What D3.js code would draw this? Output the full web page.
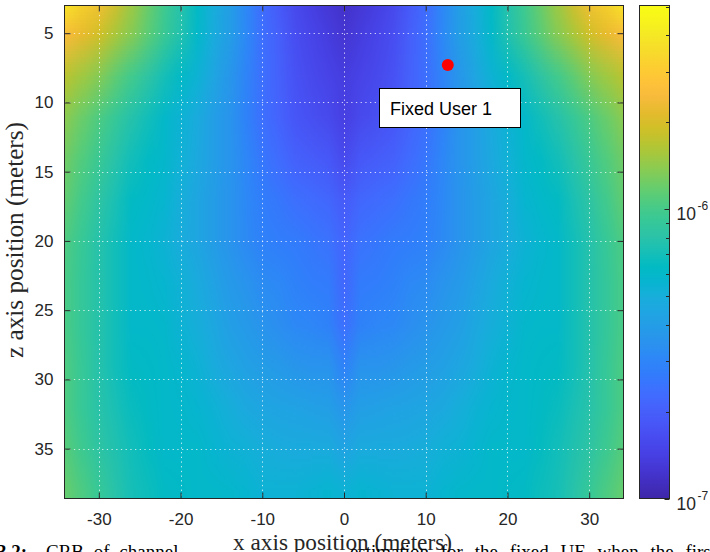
<!DOCTYPE html>
<html>
<head>
<meta charset="utf-8">
<script src="https://cdn.jsdelivr.net/npm/d3@7"></script>
<style>
  html, body { margin: 0; padding: 0; background: #ffffff; }
  svg { display: block; }
</style>
</head>
<body>
<svg id="chart" width="710" height="552"></svg>
<script>
// ---- data ---------------------------------------------------------------
// sample positions of the CRB map (meters)
const xGrid = [-34,-32,-30,-28,-26,-24,-22,-20,-18,-16,-14,-12,-10,-8,-6,-4,-2,0,
               2,4,6,8,10,12,14,16,18,20,22,24,26,28,30,32,34];
const zGrid = [2,5,8,11,14,17,20,23,26,29,32,35,38];

// log10 of the CRB at each (z row, x column)
const log10Crb = [
  [-5.35,-5.47,-5.57,-5.69,-5.81,-5.91,-6.01,-6.10,-6.20,-6.30,-6.40,-6.52,-6.64,-6.73,-6.81,-6.86,-6.90,-6.93,
   -6.90,-6.86,-6.81,-6.73,-6.64,-6.52,-6.40,-6.30,-6.20,-6.10,-6.01,-5.91,-5.81,-5.69,-5.57,-5.47,-5.35],
  [-5.60,-5.66,-5.72,-5.80,-5.87,-5.95,-6.03,-6.12,-6.22,-6.31,-6.40,-6.51,-6.62,-6.70,-6.78,-6.82,-6.86,-6.90,
   -6.86,-6.82,-6.78,-6.70,-6.62,-6.51,-6.40,-6.31,-6.22,-6.12,-6.03,-5.95,-5.87,-5.80,-5.72,-5.66,-5.60],
  [-5.77,-5.82,-5.87,-5.94,-6.01,-6.08,-6.15,-6.21,-6.27,-6.35,-6.44,-6.53,-6.62,-6.69,-6.76,-6.80,-6.83,-6.86,
   -6.83,-6.80,-6.76,-6.69,-6.62,-6.53,-6.44,-6.35,-6.27,-6.21,-6.15,-6.08,-6.01,-5.94,-5.87,-5.82,-5.77],
  [-5.86,-5.92,-5.98,-6.04,-6.11,-6.16,-6.22,-6.27,-6.32,-6.39,-6.45,-6.54,-6.62,-6.68,-6.74,-6.77,-6.80,-6.85,
   -6.80,-6.77,-6.74,-6.68,-6.62,-6.54,-6.45,-6.39,-6.32,-6.27,-6.22,-6.16,-6.11,-6.04,-5.98,-5.92,-5.86],
  [-5.91,-5.97,-6.03,-6.10,-6.16,-6.20,-6.23,-6.28,-6.33,-6.39,-6.45,-6.52,-6.59,-6.64,-6.69,-6.71,-6.73,-6.80,
   -6.73,-6.71,-6.69,-6.64,-6.59,-6.52,-6.45,-6.39,-6.33,-6.28,-6.23,-6.20,-6.16,-6.10,-6.03,-5.97,-5.91],
  [-5.94,-6.01,-6.08,-6.14,-6.20,-6.22,-6.25,-6.30,-6.35,-6.40,-6.45,-6.51,-6.56,-6.59,-6.62,-6.64,-6.66,-6.72,
   -6.66,-6.64,-6.62,-6.59,-6.56,-6.51,-6.45,-6.40,-6.35,-6.30,-6.25,-6.22,-6.20,-6.14,-6.08,-6.01,-5.94],
  [-5.98,-6.04,-6.11,-6.16,-6.22,-6.24,-6.27,-6.31,-6.35,-6.40,-6.45,-6.50,-6.54,-6.56,-6.57,-6.59,-6.61,-6.67,
   -6.61,-6.59,-6.57,-6.56,-6.54,-6.50,-6.45,-6.40,-6.35,-6.31,-6.27,-6.24,-6.22,-6.16,-6.11,-6.04,-5.98],
  [-5.99,-6.05,-6.11,-6.16,-6.22,-6.23,-6.25,-6.28,-6.32,-6.37,-6.42,-6.45,-6.49,-6.51,-6.54,-6.56,-6.57,-6.66,
   -6.57,-6.56,-6.54,-6.51,-6.49,-6.45,-6.42,-6.37,-6.32,-6.28,-6.25,-6.23,-6.22,-6.16,-6.11,-6.05,-5.99],
  [-5.99,-6.05,-6.11,-6.16,-6.22,-6.22,-6.23,-6.27,-6.30,-6.34,-6.39,-6.42,-6.45,-6.48,-6.51,-6.52,-6.54,-6.62,
   -6.54,-6.52,-6.51,-6.48,-6.45,-6.42,-6.39,-6.34,-6.30,-6.27,-6.23,-6.22,-6.22,-6.16,-6.11,-6.05,-5.99],
  [-5.98,-6.04,-6.11,-6.16,-6.20,-6.21,-6.22,-6.24,-6.27,-6.31,-6.35,-6.38,-6.40,-6.42,-6.44,-6.45,-6.45,-6.54,
   -6.45,-6.45,-6.44,-6.42,-6.40,-6.38,-6.35,-6.31,-6.27,-6.24,-6.22,-6.21,-6.20,-6.16,-6.11,-6.04,-5.98],
  [-5.98,-6.04,-6.10,-6.14,-6.18,-6.20,-6.22,-6.23,-6.25,-6.27,-6.30,-6.33,-6.35,-6.36,-6.37,-6.38,-6.39,-6.44,
   -6.39,-6.38,-6.37,-6.36,-6.35,-6.33,-6.30,-6.27,-6.25,-6.23,-6.22,-6.20,-6.18,-6.14,-6.10,-6.04,-5.98],
  [-5.96,-6.02,-6.08,-6.12,-6.16,-6.19,-6.22,-6.22,-6.22,-6.25,-6.27,-6.28,-6.30,-6.31,-6.32,-6.32,-6.32,-6.36,
   -6.32,-6.32,-6.32,-6.31,-6.30,-6.28,-6.27,-6.25,-6.22,-6.22,-6.22,-6.19,-6.16,-6.12,-6.08,-6.02,-5.96],
  [-5.93,-5.98,-6.04,-6.10,-6.15,-6.17,-6.20,-6.21,-6.22,-6.22,-6.23,-6.25,-6.27,-6.27,-6.27,-6.26,-6.25,-6.27,
   -6.25,-6.26,-6.27,-6.27,-6.27,-6.25,-6.23,-6.22,-6.22,-6.21,-6.20,-6.17,-6.15,-6.10,-6.04,-5.98,-5.93]
];

// axis extents and ticks
const xExtent = [-34.2, 34.2];
const zExtent = [3, 38.6];
const xTicks = [-30, -20, -10, 0, 10, 20, 30];
const zTicks = [5, 10, 15, 20, 25, 30, 35];
const crbRange = [1e-7, 5.08e-6];
const colorbarMajor = [1e-7, 1e-6];

// fixed user marker
const userNames = ["Fixed User 1"];
const userX = [12.7];
const userZ = [7.3];

// caption fragments
const captionNumber = "Figure 3.2:";
const captionStart = "CRB of channel";
const captionEnd = "estimation for the fixed UE when the first";

// ---- layout -------------------------------------------------------------
const plot = { left: 64.5, right: 623.5, top: 5.5, bottom: 498.5 };
const bar  = { left: 639.5, right: 669.5, top: 5.5, bottom: 498.5 };
const ink = "#262626";
const tickFont = "'Liberation Sans', Arial, Helvetica, sans-serif";
const serifFont = "'Liberation Serif', 'Times New Roman', serif";

// parula colormap anchors (index out of 255, r, g, b)
const parulaStops = [
  [0,0.2422,0.1504,0.6603],[8,0.2578,0.1818,0.7511],[16,0.2706,0.2147,0.8364],
  [24,0.2783,0.2559,0.8991],[32,0.2813,0.3006,0.9414],[40,0.2795,0.3447,0.9717],
  [48,0.2699,0.3892,0.9906],[56,0.2440,0.4358,0.9988],[64,0.1963,0.4847,0.9892],
  [72,0.1786,0.5289,0.9682],[80,0.1687,0.5703,0.9359],[88,0.1460,0.6091,0.9079],
  [96,0.1248,0.6459,0.8883],[104,0.0952,0.6798,0.8598],[112,0.0297,0.7082,0.8163],
  [120,0.0067,0.7312,0.7660],[128,0.0964,0.7500,0.7120],[136,0.1717,0.7670,0.6554],
  [144,0.2161,0.7843,0.5923],[152,0.2906,0.7973,0.5188],[160,0.3909,0.8029,0.4354],
  [168,0.5044,0.7993,0.3480],[176,0.6174,0.7876,0.2612],[184,0.7242,0.7698,0.1910],
  [192,0.8203,0.7498,0.1535],[200,0.9035,0.7330,0.1774],[208,0.9728,0.7298,0.2394],
  [216,0.9970,0.7659,0.2199],[224,0.9892,0.8136,0.1885],[232,0.9676,0.8639,0.1643],
  [240,0.9597,0.9135,0.1423],[248,0.9691,0.9606,0.1060],[255,0.9769,0.9839,0.0805]
];
const parula = d3.scaleLinear()
  .domain(parulaStops.map(s => s[0] / 255))
  .range(parulaStops.map(s => d3.rgb(s[1] * 255, s[2] * 255, s[3] * 255)))
  .interpolate(d3.interpolateRgb)
  .clamp(true);

// ---- scales -------------------------------------------------------------
const x = d3.scaleLinear().domain(xExtent).range([plot.left, plot.right]);
const y = d3.scaleLinear().domain(zExtent).range([plot.top, plot.bottom]);
const color = d3.scaleSequential(parula).domain(crbRange.map(Math.log10));
const cbar = d3.scaleLog().domain(crbRange).range([bar.bottom, bar.top]);

const svg = d3.select("#chart");
const defs = svg.append("defs");
defs.append("clipPath").attr("id", "plotClip")
  .append("rect")
  .attr("x", plot.left).attr("y", plot.top)
  .attr("width", plot.right - plot.left).attr("height", plot.bottom - plot.top);

// ---- heat map: one pixel per sample, smoothly scaled onto the axes ------
const cols = xGrid.length, rows = zGrid.length;
const canvas = document.createElement("canvas");
canvas.width = cols; canvas.height = rows;
const ctx = canvas.getContext("2d");
const pix = ctx.createImageData(cols, rows);
log10Crb.forEach((row, j) => row.forEach((v, i) => {
  const c = d3.rgb(color(v));
  const k = 4 * (j * cols + i);
  pix.data[k] = c.r; pix.data[k + 1] = c.g; pix.data[k + 2] = c.b; pix.data[k + 3] = 255;
}));
ctx.putImageData(pix, 0, 0);
const dx = xGrid[1] - xGrid[0], dz = zGrid[1] - zGrid[0];
const x0 = x(xGrid[0] - dx / 2), x1 = x(xGrid[cols - 1] + dx / 2);
const y0 = y(zGrid[0] - dz / 2), y1 = y(zGrid[rows - 1] + dz / 2);
svg.append("g").attr("clip-path", "url(#plotClip)")
  .append("image")
  .attr("href", canvas.toDataURL())
  .attr("x", x0).attr("y", y0)
  .attr("width", x1 - x0).attr("height", y1 - y0)
  .attr("preserveAspectRatio", "none")
  .style("image-rendering", "auto");

// ---- dotted grid --------------------------------------------------------
const grid = svg.append("g")
  .attr("stroke", "#ffffff").attr("stroke-opacity", 0.75)
  .attr("stroke-width", 1).attr("stroke-dasharray", "1.3,3.4");
grid.selectAll("line.v").data(xTicks).join("line").attr("class", "v")
  .attr("x1", d => Math.round(x(d)) + 0.5).attr("x2", d => Math.round(x(d)) + 0.5)
  .attr("y1", plot.top).attr("y2", plot.bottom);
grid.selectAll("line.h").data(zTicks).join("line").attr("class", "h")
  .attr("y1", d => Math.round(y(d)) + 0.5).attr("y2", d => Math.round(y(d)) + 0.5)
  .attr("x1", plot.left).attr("x2", plot.right);

// ---- axes ---------------------------------------------------------------
function styleAxis(g) {
  g.select(".domain").remove();
  g.attr("font-family", tickFont).attr("font-size", 17);
  g.selectAll(".tick line").attr("stroke", ink).attr("stroke-width", 1);
  g.selectAll(".tick text").attr("fill", ink);
}
svg.append("g").attr("transform", `translate(0,${plot.bottom})`)
  .call(d3.axisBottom(x).tickValues(xTicks).tickSizeInner(-6).tickSizeOuter(0)
    .tickPadding(14).tickFormat(d => String(d)))
  .call(styleAxis);
svg.append("g").attr("transform", `translate(0,${plot.top})`)
  .call(d3.axisTop(x).tickValues(xTicks).tickSizeInner(-6).tickSizeOuter(0).tickFormat(""))
  .call(styleAxis);
svg.append("g").attr("transform", `translate(${plot.left},0)`)
  .call(d3.axisLeft(y).tickValues(zTicks).tickSizeInner(-6).tickSizeOuter(0)
    .tickPadding(11).tickFormat(d => String(d)))
  .call(styleAxis);
svg.append("g").attr("transform", `translate(${plot.right},0)`)
  .call(d3.axisRight(y).tickValues(zTicks).tickSizeInner(-6).tickSizeOuter(0).tickFormat(""))
  .call(styleAxis);

svg.append("rect")
  .attr("x", plot.left).attr("y", plot.top)
  .attr("width", plot.right - plot.left).attr("height", plot.bottom - plot.top)
  .attr("fill", "none").attr("stroke", ink).attr("stroke-width", 1);

// ---- axis labels --------------------------------------------------------
function fitWidth(sel, target) {
  const w = sel.node().getComputedTextLength();
  const fs = parseFloat(sel.attr("font-size"));
  if (w > 0) sel.attr("font-size", fs * target / w);
}
const xLabel = svg.append("text")
  .attr("x", 342.5).attr("y", 550)
  .attr("text-anchor", "middle").attr("font-family", serifFont).attr("font-size", 22)
  .attr("fill", ink).text("x axis position (meters)");
fitWidth(xLabel, 219);
const yLabel = svg.append("text")
  .attr("transform", "translate(23.3,240) rotate(-90)")
  .attr("text-anchor", "middle").attr("font-family", serifFont).attr("font-size", 22)
  .attr("fill", ink).text("z axis position (meters)");
fitWidth(yLabel, 236);

// ---- fixed user marker and its label box ---------------------------------
const users = userNames.map((name, i) => ({ name, x: userX[i], z: userZ[i] }));
svg.append("g").selectAll("circle").data(users).join("circle")
  .attr("cx", d => x(d.x)).attr("cy", d => y(d.z)).attr("r", 6)
  .attr("fill", "#ff0000");
const boxOffset = { dx: -68.5, dy: 23, w: 141, h: 39, padX: 10.5, base: 26 };
const tag = svg.append("g").selectAll("g").data(users).join("g")
  .attr("transform", d => `translate(${Math.round(x(d.x) + boxOffset.dx) + 0.5},${Math.round(y(d.z) + boxOffset.dy) + 0.5})`);
tag.append("rect").attr("width", boxOffset.w).attr("height", boxOffset.h)
  .attr("fill", "#ffffff").attr("stroke", "#000").attr("stroke-width", 1);
tag.append("text").attr("x", boxOffset.padX).attr("y", boxOffset.base)
  .attr("font-family", tickFont).attr("font-size", 18).attr("fill", "#000")
  .text(d => d.name);

// ---- colorbar -----------------------------------------------------------
const grad = defs.append("linearGradient").attr("id", "parulaGrad")
  .attr("x1", 0).attr("y1", 1).attr("x2", 0).attr("y2", 0);
d3.range(0, 1.0001, 1 / 64).forEach(t => {
  grad.append("stop").attr("offset", t).attr("stop-color", parula(t));
});
svg.append("rect")
  .attr("x", bar.left).attr("y", bar.top)
  .attr("width", bar.right - bar.left).attr("height", bar.bottom - bar.top)
  .attr("fill", "url(#parulaGrad)");
const minorTicks = cbar.ticks().filter(v => !colorbarMajor.some(m => Math.abs(m - v) / m < 1e-6));
svg.append("g").selectAll("line").data(minorTicks).join("line")
  .attr("x1", bar.right - 3.5).attr("x2", bar.right)
  .attr("y1", d => Math.round(cbar(d)) + 0.5).attr("y2", d => Math.round(cbar(d)) + 0.5)
  .attr("stroke", ink).attr("stroke-width", 1);
svg.append("g").selectAll("line").data(colorbarMajor).join("line")
  .attr("x1", bar.right - 5).attr("x2", bar.right)
  .attr("y1", d => Math.round(cbar(d)) + 0.5).attr("y2", d => Math.round(cbar(d)) + 0.5)
  .attr("stroke", ink).attr("stroke-width", 1);
svg.append("rect")
  .attr("x", bar.left).attr("y", bar.top)
  .attr("width", bar.right - bar.left).attr("height", bar.bottom - bar.top)
  .attr("fill", "none").attr("stroke", ink).attr("stroke-width", 1);
const cbLabels = svg.append("g").selectAll("text").data(colorbarMajor).join("text")
  .attr("x", bar.right + 7).attr("y", d => cbar(d) + 11)
  .attr("font-family", tickFont).attr("font-size", 17.5).attr("fill", ink);
cbLabels.append("tspan").text("10");
cbLabels.append("tspan").attr("dx", 1.5).attr("dy", -10).attr("font-size", 12)
  .text(d => String(Math.round(Math.log10(d))));

// ---- caption line below the figure --------------------------------------
const cap = svg.append("g").attr("font-family", serifFont).attr("font-size", 19).attr("fill", "#000");
cap.append("text").attr("x", 27).attr("y", 558).attr("text-anchor", "end")
  .attr("font-weight", "bold").text(captionNumber);
cap.append("text").attr("x", 46).attr("y", 558).attr("word-spacing", 5).text(captionStart);
cap.append("text").attr("x", 716).attr("y", 558).attr("text-anchor", "end")
  .attr("word-spacing", 7).text(captionEnd);
</script>
</body>
</html>
